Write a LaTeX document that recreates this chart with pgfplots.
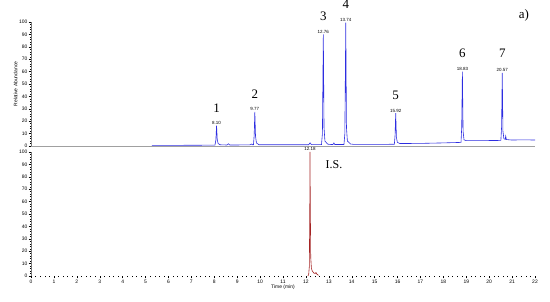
\documentclass[border=0pt]{standalone}
\usepackage{pgfplots}
\pgfplotsset{compat=1.18}
\usepackage{fontspec}
\setmainfont{Liberation Sans}
\newfontfamily\serifnum{Liberation Serif}
\definecolor{trblue}{RGB}{45,45,225}
\definecolor{trred}{RGB}{165,35,35}
\definecolor{axgray}{RGB}{120,120,120}

\pgfplotsset{
  chrom/.style={
    scale only axis, width=504bp, height=124bp,
    xmin=0, xmax=22, ymin=0, ymax=100,
    axis x line*=bottom, axis y line*=left,
    axis line style={-, axgray, line width=0.5pt},
    ytick={0,10,...,100}, minor y tick num=4,
    tick align=outside, major tick length=2.5pt, minor tick length=1.2pt,
    every tick/.style={black, line width=0.4pt},
    ticklabel style={font=\fontsize{5}{6}\selectfont, inner sep=1pt},
    /pgf/number format/assume math mode=true,
    clip=false
  }
}
\tikzset{
  rt/.style={font=\fontsize{4.5}{5}\selectfont, inner sep=0.8pt, anchor=south},
  pk/.style={font=\serifnum\fontsize{13}{14}\selectfont, inner sep=0pt, anchor=south}
}

\begin{document}
\begin{tikzpicture}[x=1bp, y=1bp]
\useasboundingbox (0,0) rectangle (550,301);

% upper trace: analytes
\begin{axis}[chrom, at={(31bp,155bp)}, anchor=south west,
  xtick=\empty,
  x axis line style={axgray!70, line width=0.9pt},
  ylabel={Relative Abundance},
  ylabel style={font=\fontsize{5}{6}\selectfont, yshift=-3pt}]
\addplot[trblue, line width=0.6pt] coordinates {
  (5.28,0.5) (6.0,0.5) (7.0,0.6) (8.03,0.7) (8.07,5) (8.10,16.5) (8.13,5) (8.17,2) (8.25,1.0)
  (8.55,0.8) (8.62,1.8) (8.68,0.8) (9.55,0.9) (9.62,1.6) (9.67,1.0)
  (9.71,1.0) (9.74,8) (9.77,27.5) (9.80,8) (9.84,2.5) (9.95,1.0)
  (11.0,1.0) (12.12,1.0) (12.18,2.5) (12.24,1.1)
  (12.68,1.1) (12.72,10) (12.76,90) (12.79,15) (12.83,4) (12.95,1.5) (13.1,1.2)
  (13.18,1.2) (13.22,2.5) (13.26,1.2)
  (13.66,1.2) (13.70,10) (13.74,99.5) (13.77,15) (13.81,4) (13.95,1.6) (14.1,1.3)
  (15.0,1.3) (15.86,1.4) (15.89,8) (15.92,26.5) (15.95,7) (15.99,3) (16.1,2.0)
  (17.0,2.1) (18.0,2.5) (18.77,2.9) (18.80,15) (18.83,60) (18.86,12) (18.90,5) (19.0,4.3)
  (19.5,4.3) (20.51,4.5) (20.54,15) (20.57,59) (20.60,12) (20.64,6) (20.70,5.3)
  (20.72,8) (20.75,5.2) (21.0,4.8) (21.5,5.0) (22.0,4.8)
};
\node[rt] at (axis cs:8.10,16.5) {8.10};
\node[rt] at (axis cs:9.77,27.5) {9.77};
\node[rt] at (axis cs:12.76,90) {12.76};
\node[rt] at (axis cs:13.74,99.5) {13.74};
\node[rt] at (axis cs:15.92,26.5) {15.92};
\node[rt] at (axis cs:18.83,60) {18.83};
\node[rt] at (axis cs:20.57,59) {20.57};
\node[pk] at (axis cs:8.10,27) {1};
\node[pk] at (axis cs:9.77,38.5) {2};
\node[pk] at (axis cs:12.76,101) {3};
\node[pk] at (axis cs:13.74,110.5) {4};
\node[pk] at (axis cs:15.92,37.5) {5};
\node[pk] at (axis cs:18.83,71) {6};
\node[pk] at (axis cs:20.57,71) {7};
\end{axis}

% lower trace: internal standard
\begin{axis}[chrom, at={(31bp,25bp)}, anchor=south west,
  xtick={0,1,...,22}, minor x tick num=4,
  x axis line style={draw=none},
  xlabel={Time (min)},
  xlabel style={font=\fontsize{5}{6}\selectfont, yshift=3pt}]
\addplot[trred, line width=0.6pt] coordinates {
  (12.08,0) (12.12,1) (12.15,8) (12.17,60) (12.18,100) (12.19,60) (12.21,15) (12.24,6)
  (12.28,4) (12.34,2.5) (12.40,2.0) (12.44,2.8) (12.48,1.5) (12.55,0.5)
};
\node[rt] at (axis cs:12.18,100) {12.18};
\end{axis}

\node[font=\serifnum\fontsize{12}{13}\selectfont] at (334,136) {I.S.};
\node[font=\serifnum\fontsize{13}{14}\selectfont] at (524,286) {a)};
\end{tikzpicture}
\end{document}
